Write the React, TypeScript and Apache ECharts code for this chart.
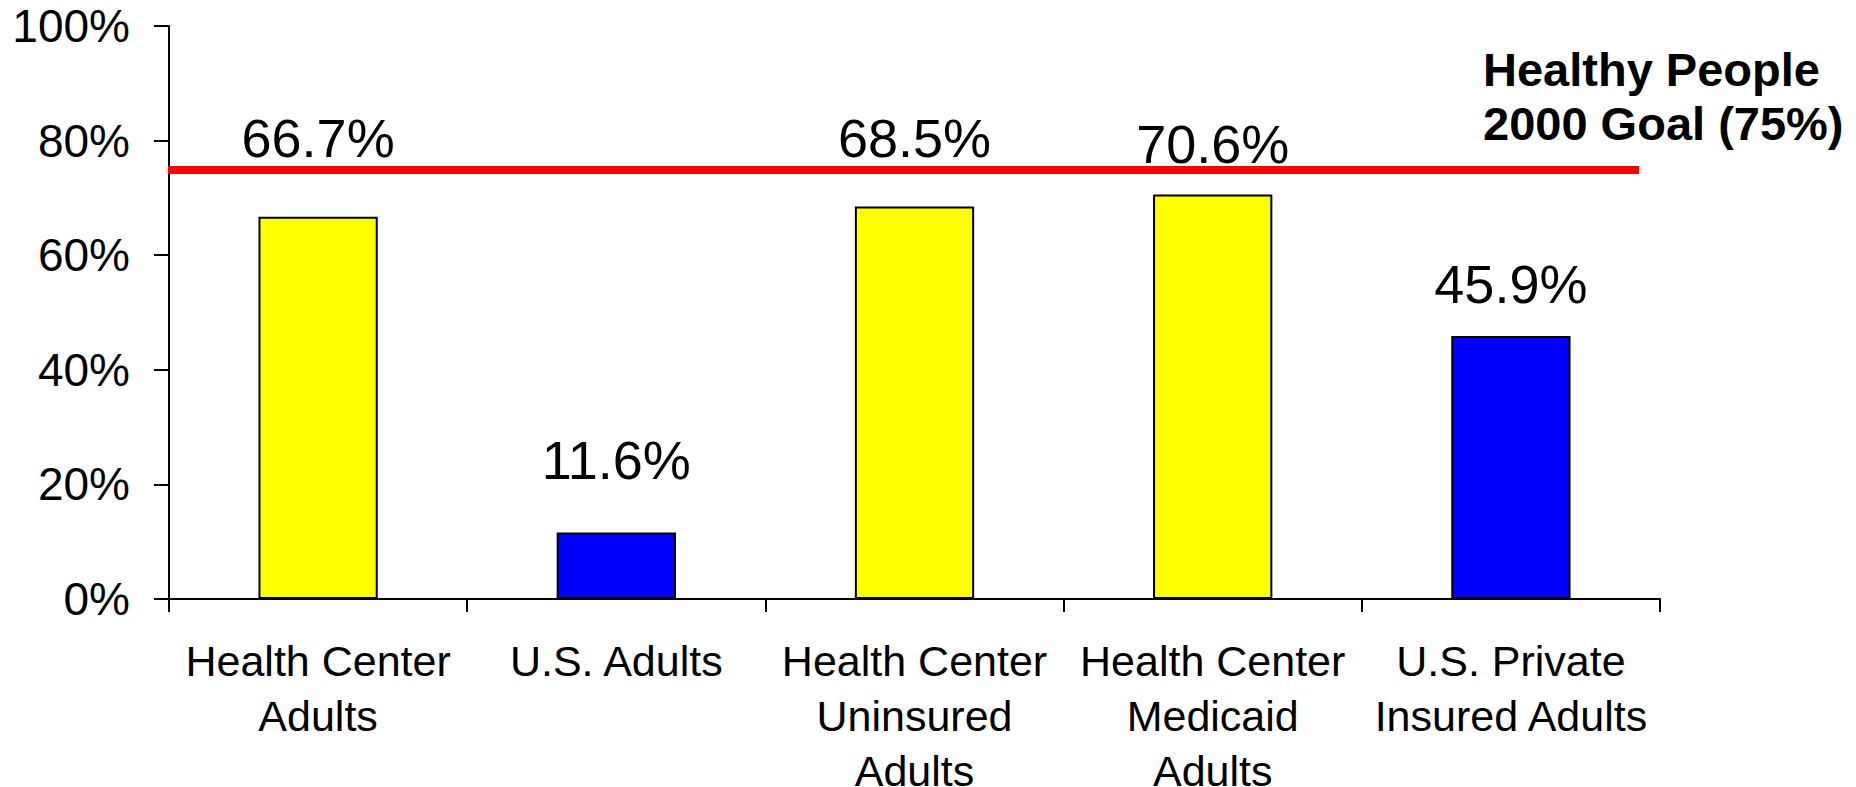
import React, { useEffect, useRef } from "react";
import * as echarts from "echarts";

const categories = [
  "Health Center\nAdults",
  "U.S. Adults",
  "Health Center\nUninsured\nAdults",
  "Health Center\nMedicaid\nAdults",
  "U.S. Private\nInsured Adults",
];
const values = [66.7, 11.6, 68.5, 70.6, 45.9];
const barColors = ["#FFFF00", "#0000FF", "#FFFF00", "#FFFF00", "#0000FF"];
const yTicks = [0, 20, 40, 60, 80, 100];
const goalValue = 75;
const goalText = ["Healthy People", "2000 Goal (75%)"];

// layout only (label gaps above each bar, in px)
const labelGaps = [52, 46, 41, 23, 25];

const FONT = '"Liberation Sans", Arial, Helvetica, sans-serif';

export default function App() {
  const ref = useRef<HTMLDivElement>(null);
  useEffect(() => {
    if (!ref.current) return;
    const chart = echarts.init(ref.current, undefined, { renderer: "svg" });
    chart.setOption({
      animation: false,
      backgroundColor: "#ffffff",
      grid: {
        left: 169,
        right: 196,
        top: 26,
        bottom: 188,
        containLabel: false,
        outerBoundsMode: "none",
      },
      xAxis: {
        type: "category",
        data: categories,
        axisLine: { show: true, lineStyle: { color: "#000", width: 2 } },
        axisTick: { show: true, length: 13, lineStyle: { color: "#000", width: 2 } },
        axisLabel: {
          color: "#000",
          fontFamily: FONT,
          fontSize: 43,
          lineHeight: 55,
          margin: 34,
          interval: 0,
        },
      },
      yAxis: {
        type: "value",
        min: yTicks[0],
        max: yTicks[yTicks.length - 1],
        interval: yTicks[1] - yTicks[0],
        splitLine: { show: false },
        axisLine: { show: true, lineStyle: { color: "#000", width: 2 } },
        axisTick: { show: true, length: 15, lineStyle: { color: "#000", width: 2 } },
        axisLabel: {
          color: "#000",
          fontFamily: FONT,
          fontSize: 46,
          margin: 39,
          formatter: "{value}%",
        },
      },
      series: [
        {
          type: "bar",
          barWidth: "40%",
          data: values.map((v, i) => ({
            value: v,
            itemStyle: { color: barColors[i] },
            label: { distance: labelGaps[i] },
          })),
          itemStyle: { borderColor: "#000", borderWidth: 2 },
          label: {
            show: true,
            position: "top",
            color: "#000",
            fontFamily: FONT,
            fontSize: 54,
            formatter: (p: any) => p.value.toFixed(1) + "%",
          },
          markLine: {
            silent: true,
            symbol: ["none", "none"],
            label: { show: false },
            lineStyle: { color: "#FF0000", width: 8, type: "solid" },
            data: [[{ x: 168, yAxis: goalValue }, { x: 1639, yAxis: goalValue }]],
            z: 10,
          },
        },
      ],
      graphic: [
        {
          type: "text",
          left: 1483,
          top: 42,
          style: {
            text: goalText.join("\n"),
            fill: "#000",
            font: `bold 47px ${FONT}`,
            lineHeight: 54,
          },
        },
      ],
    });
    return () => chart.dispose();
  }, []);
  return (
    <div
      ref={ref}
      style={{ position: "absolute", left: 0, top: 0, width: 1856, height: 787 }}
    />
  );
}
